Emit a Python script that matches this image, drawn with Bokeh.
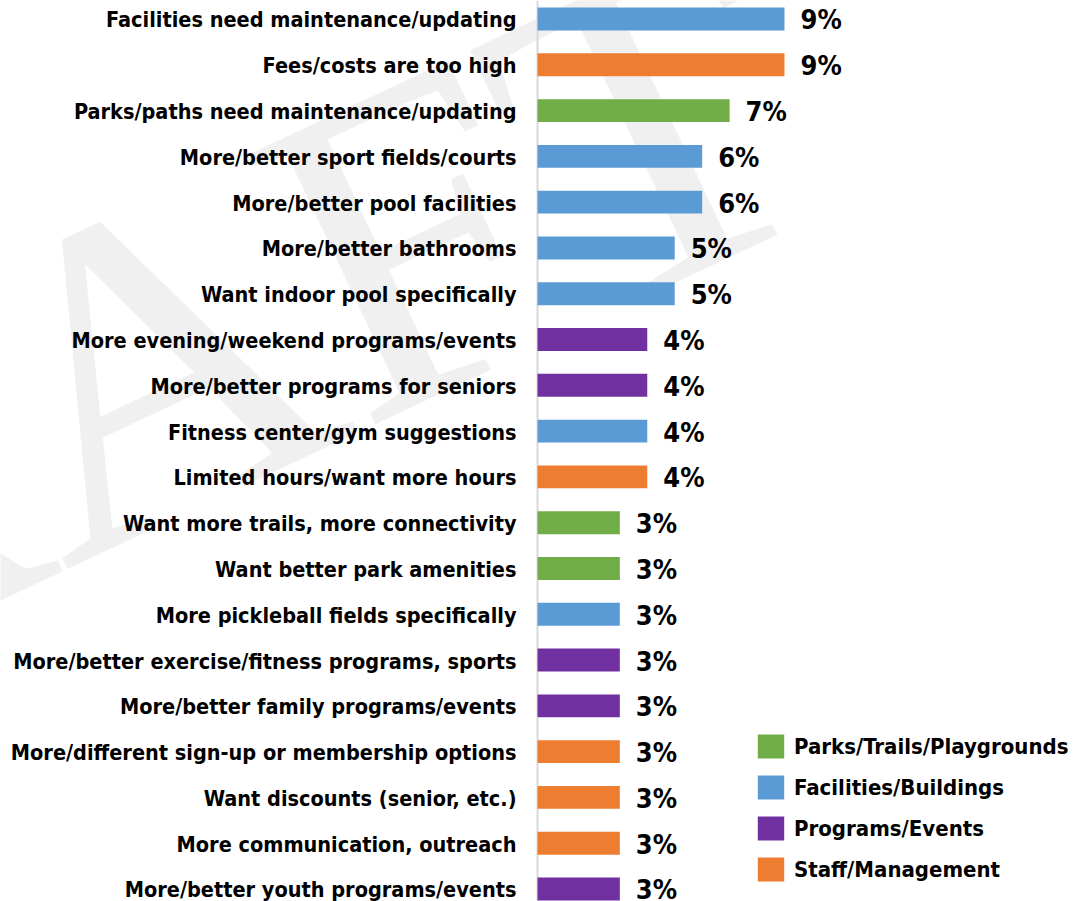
from bokeh.plotting import figure
from bokeh.models import Legend, LegendItem, ColumnDataSource, Label, Range1d, Span
from bokeh.embed import file_html
from bokeh.resources import INLINE
from bokeh.core.properties import value

categories = [
    "Facilities need maintenance/updating",
    "Fees/costs are too high",
    "Parks/paths need maintenance/updating",
    "More/better sport fields/courts",
    "More/better pool facilities",
    "More/better bathrooms",
    "Want indoor pool specifically",
    "More evening/weekend programs/events",
    "More/better programs for seniors",
    "Fitness center/gym suggestions",
    "Limited hours/want more hours",
    "Want more trails, more connectivity",
    "Want better park amenities",
    "More pickleball fields specifically",
    "More/better exercise/fitness programs, sports",
    "More/better family programs/events",
    "More/different sign-up or membership options",
    "Want discounts (senior, etc.)",
    "More communication, outreach",
    "More/better youth programs/events",
]
values = [9, 9, 7, 6, 6, 5, 5, 4, 4, 4, 4, 3, 3, 3, 3, 3, 3, 3, 3, 3]
groups = [
    "Facilities/Buildings", "Staff/Management", "Parks/Trails/Playgrounds",
    "Facilities/Buildings", "Facilities/Buildings", "Facilities/Buildings",
    "Facilities/Buildings", "Programs/Events", "Programs/Events",
    "Facilities/Buildings", "Staff/Management", "Parks/Trails/Playgrounds",
    "Parks/Trails/Playgrounds", "Facilities/Buildings", "Programs/Events",
    "Programs/Events", "Staff/Management", "Staff/Management",
    "Staff/Management", "Programs/Events",
]
group_order = ["Parks/Trails/Playgrounds", "Facilities/Buildings",
               "Programs/Events", "Staff/Management"]
group_colors = ["#70AD47", "#5B9BD5", "#7030A0", "#ED7D31"]
value_labels = [f"{v}%" for v in values]

FONT = "DejaVu Sans Condensed"
n = len(categories)
ypos = [n - 1 - i for i in range(n)]

p = figure(width=1085, height=901, output_backend="svg", toolbar_location=None,
           x_range=Range1d(-19.57, 19.97), y_range=Range1d(-0.273, 19.404),
           min_border_left=0, min_border_right=0, min_border_top=0,
           min_border_bottom=0)
p.outline_line_color = None
p.grid.visible = False
p.axis.visible = False
p.background_fill_color = "white"
p.border_fill_color = "white"

# faint watermark
wm = Label(x=-40.5, y=4.1, text="DRAFT", angle=0.44, text_font="Liberation Serif",
           text_font_size="455px", text_color="#f0f0f0", text_baseline="alphabetic",
           level="underlay")
p.add_layout(wm)

legend_items = []
for g, c in zip(group_order, group_colors):
    idx = [i for i in range(n) if groups[i] == g]
    src = ColumnDataSource(dict(y=[ypos[i] for i in idx], v=[values[i] for i in idx]))
    r = p.hbar(y="y", right="v", left=0, height=0.5, source=src, fill_color=c,
               line_color=None)
    legend_items.append(LegendItem(label=g, renderers=[r]))

p.add_layout(Span(location=0, dimension="height", line_color="#d9d9d9",
                  line_width=2, level="underlay"))

cat_src = ColumnDataSource(dict(y=ypos, t=categories, x0=[0] * n))
p.text(x="x0", y="y", text="t", source=cat_src, x_offset=-21, y_offset=1,
       text_baseline="middle", text_align="right", text_font=value(FONT),
       text_font_style="bold", text_font_size="21.5px", text_color="black")

lab_src = ColumnDataSource(dict(y=ypos, v=values, t=value_labels))
p.text(x="v", y="y", text="t", source=lab_src, x_offset=16, y_offset=1,
       text_baseline="middle", text_align="left", text_font=value(FONT),
       text_font_style="bold", text_font_size="27px", text_color="black")

legend = Legend(items=legend_items, location=(754, 17), orientation="vertical",
                glyph_width=33, glyph_height=30, label_height=24, spacing=11,
                padding=0, margin=0, label_standoff=7, label_text_font=FONT,
                label_text_font_style="bold", label_text_font_size="22px",
                label_text_color="black", border_line_color=None,
                background_fill_alpha=0)
p.add_layout(legend)

open("out.html", "w").write(file_html(p, INLINE))
